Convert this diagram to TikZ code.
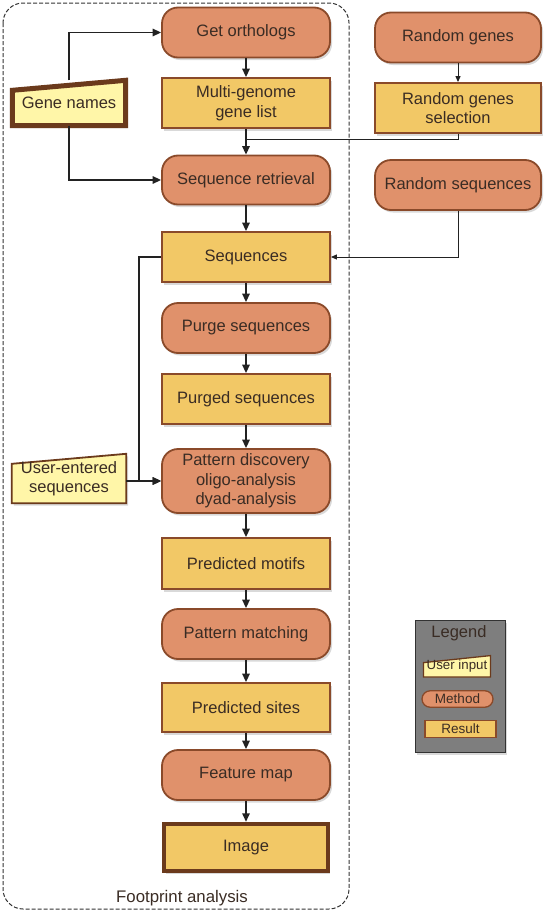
\documentclass[tikz,border=0pt]{standalone}
\usepackage{fontspec}
\setmainfont{Liberation Sans}
\usetikzlibrary{arrows.meta,shadows,backgrounds,calc}
\pgfdeclarelayer{bottom}
\pgfsetlayers{bottom,background,main}
\definecolor{methfill}{HTML}{E0916B}
\definecolor{resfill}{HTML}{F2C866}
\definecolor{infill}{HTML}{FFF6A8}
\definecolor{brd}{HTML}{8A4A2A}
\definecolor{dbrd}{HTML}{6B3A1C}
\definecolor{txt}{HTML}{3A2C24}
\definecolor{lgray}{HTML}{7E7E7E}
\definecolor{arrc}{HTML}{222222}
\tikzset{
  shad/.style={drop shadow={shadow xshift=2pt,shadow yshift=-2.5pt,opacity=0.3}},
  base/.style={draw=brd, line width=1.8pt, text=txt, font=\fontsize{16.5}{19.5}\selectfont,
    align=center, minimum width=168, minimum height=50, inner sep=2pt, shad},
  method/.style={base, fill=methfill, rounded corners=16pt},
  result/.style={base, fill=resfill},
  inp/.style={text=txt, font=\fontsize{16.5}{19.5}\selectfont, align=center, inner sep=2pt},
  inbox/.style={fill=infill, draw=dbrd, line width=#1, line join=miter, shad},
  frame/.style={draw=black!80, line width=1pt, dash pattern=on 4pt off 2pt, rounded corners=20pt},
  arr/.style={draw=arrc, line width=1.5pt, -{Triangle[length=8.5pt,width=7.5pt]}},
  arrs/.style={draw=arrc, line width=1pt, -{Triangle[length=6pt,width=5pt]}},
  conn/.style={draw=arrc, line width=1pt},
  lgitem/.style={draw=brd, line width=1.3pt, text=txt, font=\fontsize{13.5}{15}\selectfont,
    inner sep=0pt, minimum width=71, minimum height=16.5},
}
\begin{document}
\begin{tikzpicture}[x=1pt,y=-1pt]
\useasboundingbox (0,0) rectangle (550,913);
% frame
\draw[frame] (3,3) rectangle (349,909);
\node[text=txt, font=\fontsize{16.8}{20}\selectfont] (fa) at (182,898) {Footprint analysis};

% main column
\node[method] (go) at (246,32.5) {Get orthologs};
\node[result] (mg) at (246,103) {Multi-genome\\gene list};
\node[method, minimum height=49] (sr) at (246,180) {Sequence retrieval};
\node[result] (sq) at (246,257) {Sequences};
\node[method] (ps) at (246,328) {Purge sequences};
\node[result] (pg) at (246,399) {Purged sequences};
\node[method, minimum height=64] (pd) at (246,481) {Pattern discovery\\oligo-analysis\\dyad-analysis};
\node[result, minimum height=51] (pmo) at (246,563.5) {Predicted motifs};
\node[method] (pma) at (246,634) {Pattern matching};
\node[result, minimum height=49] (psi) at (246,707.5) {Predicted sites};
\node[method] (fm) at (246,775) {Feature map};
\node[result, line width=4.5pt, draw=dbrd, minimum width=164, minimum height=47] (img) at (246,847.5) {Image};

% right column
\node[method, minimum width=166] (rg) at (458,37.5) {Random genes};
\node[result, minimum width=166] (rgs) at (458,108) {Random genes\\selection};
\node[method, minimum width=166] (rs) at (458,185) {Random sequences};

% user inputs
\node[inp, minimum width=113, minimum height=45] (gn) at (69,103) {\raisebox{-3pt}{Gene names}};
\node[inp, minimum width=114, minimum height=49] (ue) at (69,478.5) {\raisebox{-3pt}{\parbox{110pt}{\centering User-entered\\sequences}}};

% legend
\begin{pgfonlayer}{bottom}
\node[draw=black!80, line width=1pt, fill=lgray, minimum width=90, minimum height=132, shad] (lg) at (460,686) {};
\end{pgfonlayer}
\node[text=txt, font=\fontsize{16.5}{19}\selectfont] (lgt) at (459,633) {Legend};
\node[inp, font=\fontsize{13.3}{15}\selectfont, minimum width=66.5, minimum height=21] (lui) at (457,666.3) {\raisebox{-2pt}{User input}};
\node[lgitem, fill=methfill, rounded corners=8.25pt] (lme) at (457.5,699) {Method};
\node[lgitem, fill=resfill, shad] (lre) at (460.5,729) {Result};

\begin{pgfonlayer}{background}
\path[inbox=5pt] (gn.south west) -- (gn.south east) -- (gn.north east) -- ([yshift=-10pt]gn.north west) -- cycle;
\path[inbox=1.8pt] (ue.south west) -- (ue.south east) -- (ue.north east) -- ([yshift=-10pt]ue.north west) -- cycle;
\path[inbox=1.3pt] (lui.south west) -- (lui.south east) -- (lui.north east) -- ([yshift=-7pt]lui.north west) -- cycle;
\end{pgfonlayer}

% connectors
\draw[arr] (gn.north) |- (go.west);
\draw[arr] (gn.south) |- (sr.west);
\draw[arr] (go) -- (mg);
\draw[arr] (mg) -- (sr);
\draw[arrs] (rg) -- (rgs);
\draw[conn] (rgs.south) |- ($(mg.south)+(0,11)$);
\draw[arrs] (rs.south) |- (sq.east);
\draw[arr] (sr) -- (sq);
\draw[arr] (sq) -- (ps);
\draw[arr] (ps) -- (pg);
\draw[arr] (pg) -- (pd);
\draw[arr] (pd) -- (pmo);
\draw[arr] (pmo) -- (pma);
\draw[arr] (pma) -- (psi);
\draw[arr] (psi) -- (fm);
\draw[arr] (fm) -- (img);
\draw[arr] (sq.west) -- ++(-22,0) |- (pd.west);
\draw[arr] (pd.west -| ue.east) -- (pd.west);
\end{tikzpicture}
\end{document}
